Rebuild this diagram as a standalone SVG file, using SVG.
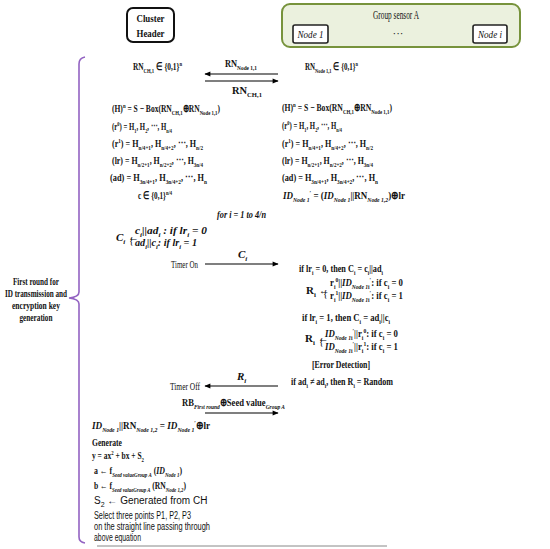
<svg xmlns="http://www.w3.org/2000/svg" width="550" height="549" viewBox="0 0 550 549">
<defs>
<marker id="ah" viewBox="0 0 10 10" refX="9" refY="5" markerWidth="7" markerHeight="6" orient="auto" markerUnits="userSpaceOnUse">
<path d="M0,1 L10,5 L0,9 z" fill="#000"/>
</marker>
</defs>
<style>
text{font-family:"Liberation Serif",serif;fill:#111}
.m{font-size:11px;font-weight:bold}
.it{font-style:italic}
.s{font-size:7px;baseline-shift:-2.5px}
.p{font-size:7px;baseline-shift:4px}
.sans{font-family:"Liberation Sans",sans-serif;font-size:10px;font-weight:normal}
.conn{stroke:#000;stroke-width:1.2;fill:none;marker-end:url(#ah)}
.nb{fill:#fff;stroke:#222;stroke-width:1.6}
</style>
<rect width="550" height="549" fill="#fff"/>

<g id="cluster-header">
<rect x="127" y="8" width="47" height="34" rx="6" fill="#fff" stroke="#111" stroke-width="2"/>
<text x="150.5" y="22" text-anchor="middle" class="m" font-size="12" textLength="28" lengthAdjust="spacingAndGlyphs">Cluster</text>
<text x="150.5" y="37" text-anchor="middle" class="m" font-size="12" textLength="28" lengthAdjust="spacingAndGlyphs">Header</text>
</g>

<g id="group-sensor-a">
<rect x="282" y="4" width="238" height="43" rx="8" fill="#ebf1de" stroke="#77933c" stroke-width="2"/>
<text x="396" y="19" text-anchor="middle" font-size="11.5" textLength="46" lengthAdjust="spacingAndGlyphs">Group sensor A</text>
<text x="398" y="37" text-anchor="middle" font-size="11">···</text>
</g>
<g id="node-1">
<rect x="293" y="25" width="35" height="18" rx="2" class="nb"/>
<text x="310.5" y="38" text-anchor="middle" font-size="11" class="it" textLength="26" lengthAdjust="spacingAndGlyphs">Node 1</text>
</g>
<g id="node-i">
<rect x="473" y="25" width="34" height="18" rx="2" class="nb"/>
<text x="490" y="38" text-anchor="middle" font-size="11" class="it" textLength="24" lengthAdjust="spacingAndGlyphs">Node i</text>
</g>

<g id="connectors">
<line x1="278" y1="74" x2="205" y2="74" class="conn"/>
<line x1="205" y1="81" x2="278" y2="81" class="conn"/>
<line x1="205" y1="264" x2="278" y2="264" class="conn"/>
<line x1="278" y1="386" x2="205" y2="386" class="conn"/>
<line x1="205" y1="413" x2="278" y2="413" class="conn"/>
</g>

<g id="brace">
<path d="M85,57 Q79,58 79,64 L79,292 Q79,297 69,298 Q79,299 79,304 L79,537 Q79,542 85,543" fill="none" stroke="#9363c2" stroke-width="1.6"/>
<text x="36" y="285" text-anchor="middle" class="m" font-size="10" textLength="46" lengthAdjust="spacingAndGlyphs">First round for</text>
<text x="36" y="297" text-anchor="middle" class="m" font-size="10" textLength="62" lengthAdjust="spacingAndGlyphs">ID transmission and</text>
<text x="36" y="309" text-anchor="middle" class="m" font-size="10" textLength="48" lengthAdjust="spacingAndGlyphs">encryption key</text>
<text x="36" y="321" text-anchor="middle" class="m" font-size="10" textLength="33" lengthAdjust="spacingAndGlyphs">generation</text>
</g>

<!-- top -->
<text x="133" y="70" class="m" textLength="49" lengthAdjust="spacingAndGlyphs">RN<tspan class="s">CH,1</tspan> ∈ {0,1}<tspan class="p">n</tspan></text>
<text x="305" y="70" class="m" textLength="53" lengthAdjust="spacingAndGlyphs">RN<tspan class="s">Node 1,1</tspan> ∈ {0,1}<tspan class="p">n</tspan></text>
<text x="225" y="67" class="m" textLength="32" lengthAdjust="spacingAndGlyphs">RN<tspan class="s">Node 1,1</tspan></text>
<text x="232" y="94" class="m" textLength="30" lengthAdjust="spacingAndGlyphs">RN<tspan class="s">CH,1</tspan></text>

<!-- left column -->
<text x="112" y="112" class="m" textLength="108" lengthAdjust="spacingAndGlyphs">(H)<tspan class="p">n</tspan> = S − Box(RN<tspan class="s">CH,1</tspan>⊕RN<tspan class="s">Node 1,1</tspan>)</text>
<text x="112" y="130" class="m" textLength="60" lengthAdjust="spacingAndGlyphs">(r<tspan class="p">0</tspan>) = H<tspan class="s">1</tspan>, H<tspan class="s">2</tspan>, ⋯, H<tspan class="s">n/4</tspan></text>
<text x="112" y="147" class="m" textLength="91" lengthAdjust="spacingAndGlyphs">(r<tspan class="p">1</tspan>) = H<tspan class="s">n/4+1</tspan>, H<tspan class="s">n/4+2</tspan>, ⋯, H<tspan class="s">n/2</tspan></text>
<text x="112" y="164" class="m" textLength="91" lengthAdjust="spacingAndGlyphs">(lr) = H<tspan class="s">n/2+1</tspan>, H<tspan class="s">n/2+2</tspan>, ⋯, H<tspan class="s">3n/4</tspan></text>
<text x="110" y="181" class="m" textLength="97" lengthAdjust="spacingAndGlyphs">(ad) = H<tspan class="s">3n/4+1</tspan>, H<tspan class="s">3n/4+2</tspan>, ⋯, H<tspan class="s">n</tspan></text>
<text x="138" y="199" class="m" textLength="34" lengthAdjust="spacingAndGlyphs">c ∈ {0,1}<tspan class="p">n/4</tspan></text>
<text x="217" y="218" class="m it" textLength="49" lengthAdjust="spacingAndGlyphs">for i = 1 to 4/n</text>
<text x="116" y="241" class="m it" font-size="12">C<tspan class="s">i</tspan> ←</text>
<text x="130" y="244" class="m" font-size="16" transform="translate(130,244) scale(0.6,1) translate(-130,-244)">{</text>
<text x="135" y="234" class="m it" textLength="72" lengthAdjust="spacingAndGlyphs">c<tspan class="s">i</tspan>||ad<tspan class="s">i</tspan> : if lr<tspan class="s">i</tspan> = 0</text>
<text x="135" y="246" class="m it" textLength="62" lengthAdjust="spacingAndGlyphs">ad<tspan class="s">i</tspan>||c<tspan class="s">i</tspan>: if lr<tspan class="s">i</tspan> = 1</text>
<text x="171" y="268" font-size="10" textLength="27" lengthAdjust="spacingAndGlyphs">Timer On</text>
<text x="238" y="258" class="m it" font-size="12">C<tspan class="s">i</tspan></text>

<!-- right column -->
<text x="282" y="111" class="m" textLength="110" lengthAdjust="spacingAndGlyphs">(H)<tspan class="p">n</tspan> = S − Box(RN<tspan class="s">CH,1</tspan>⊕RN<tspan class="s">Node 1,1</tspan>)</text>
<text x="282" y="129" class="m" textLength="60" lengthAdjust="spacingAndGlyphs">(r<tspan class="p">0</tspan>) = H<tspan class="s">1</tspan>, H<tspan class="s">2</tspan>, ⋯, H<tspan class="s">n/4</tspan></text>
<text x="282" y="147" class="m" textLength="91" lengthAdjust="spacingAndGlyphs">(r<tspan class="p">1</tspan>) = H<tspan class="s">n/4+1</tspan>, H<tspan class="s">n/4+2</tspan>, ⋯, H<tspan class="s">n/2</tspan></text>
<text x="282" y="164" class="m" textLength="91" lengthAdjust="spacingAndGlyphs">(lr) = H<tspan class="s">n/2+1</tspan>, H<tspan class="s">n/2+2</tspan>, ⋯, H<tspan class="s">3n/4</tspan></text>
<text x="282" y="181" class="m" textLength="96" lengthAdjust="spacingAndGlyphs">(ad) = H<tspan class="s">3n/4+1</tspan>, H<tspan class="s">3n/4+2</tspan>, ⋯, H<tspan class="s">n</tspan></text>
<text x="283" y="199" class="m" textLength="122" lengthAdjust="spacingAndGlyphs"><tspan class="it">ID</tspan><tspan class="s it">Node 1</tspan><tspan class="p">′</tspan> = (<tspan class="it">ID</tspan><tspan class="s it">Node 1</tspan>||RN<tspan class="s it">Node 1,2</tspan>)⊕lr</text>

<text x="299" y="272" class="m" textLength="84" lengthAdjust="spacingAndGlyphs">if lr<tspan class="s">i</tspan> = 0, then C<tspan class="s">i</tspan> = c<tspan class="s">i</tspan>||ad<tspan class="s">i</tspan></text>
<text x="306" y="294" class="m">R<tspan class="s">i</tspan> ←</text>
<text x="324" y="297" class="m" font-size="15" transform="translate(324,297) scale(0.6,1) translate(-324,-297)">{</text>
<text x="330" y="286" class="m" textLength="73" lengthAdjust="spacingAndGlyphs">r<tspan class="s">i</tspan><tspan class="p">0</tspan>||<tspan class="it">ID</tspan><tspan class="s it">Node 1</tspan><tspan class="s">i</tspan><tspan class="p">′</tspan>: if c<tspan class="s">i</tspan> = 0</text>
<text x="330" y="299" class="m" textLength="73" lengthAdjust="spacingAndGlyphs">r<tspan class="s">i</tspan><tspan class="p">1</tspan>||<tspan class="it">ID</tspan><tspan class="s it">Node 1</tspan><tspan class="s">i</tspan><tspan class="p">′</tspan>: if c<tspan class="s">i</tspan> = 1</text>

<text x="302" y="321" class="m" textLength="88" lengthAdjust="spacingAndGlyphs">if lr<tspan class="s">i</tspan> = 1, then C<tspan class="s">i</tspan> = ad<tspan class="s">i</tspan>||c<tspan class="s">i</tspan></text>
<text x="305" y="342" class="m">R<tspan class="s">i</tspan> ←</text>
<text x="320" y="345" class="m" font-size="15" transform="translate(320,345) scale(0.6,1) translate(-320,-345)">{</text>
<text x="325" y="337" class="m" textLength="73" lengthAdjust="spacingAndGlyphs"><tspan class="it">ID</tspan><tspan class="s it">Node 1</tspan><tspan class="s">i</tspan><tspan class="p">′</tspan>||r<tspan class="s">i</tspan><tspan class="p">0</tspan>: if c<tspan class="s">i</tspan> = 0</text>
<text x="325" y="350" class="m" textLength="73" lengthAdjust="spacingAndGlyphs"><tspan class="it">ID</tspan><tspan class="s it">Node 1</tspan><tspan class="s">i</tspan><tspan class="p">′</tspan>||r<tspan class="s">i</tspan><tspan class="p">1</tspan>: if c<tspan class="s">i</tspan> = 1</text>

<text x="312" y="368" class="m" textLength="58" lengthAdjust="spacingAndGlyphs">[Error Detection]</text>
<text x="291" y="385" class="m" textLength="102" lengthAdjust="spacingAndGlyphs">if ad<tspan class="s">i</tspan> ≠ ad<tspan class="s">i</tspan>, then R<tspan class="s">i</tspan> = Random</text>

<!-- lower -->
<text x="237" y="380" class="m it" font-size="12">R<tspan class="s">i</tspan></text>
<text x="170" y="390" font-size="10" textLength="30" lengthAdjust="spacingAndGlyphs">Timer Off</text>
<text x="182" y="406" class="m" textLength="103" lengthAdjust="spacingAndGlyphs">RB<tspan class="s it">First round</tspan>⊕Seed value<tspan class="s it">Group A</tspan></text>

<text x="92" y="429" class="m" textLength="118" lengthAdjust="spacingAndGlyphs"><tspan class="it">ID</tspan><tspan class="s it">Node 1</tspan>||RN<tspan class="s it">Node 1,2</tspan> = <tspan class="it">ID</tspan><tspan class="s it">Node 1</tspan><tspan class="p">′</tspan>⊕lr</text>
<text x="92" y="446" class="m" textLength="30" lengthAdjust="spacingAndGlyphs">Generate</text>
<text x="92" y="459" class="m" textLength="52" lengthAdjust="spacingAndGlyphs">y = ax<tspan class="p">2</tspan> + bx + S<tspan class="s">2</tspan></text>
<text x="94" y="474" class="m" textLength="88" lengthAdjust="spacingAndGlyphs">a ← f<tspan class="s it">Seed value</tspan><tspan class="s it" font-size="5">Group A</tspan> (<tspan class="it">ID</tspan><tspan class="s it">Node 1</tspan>)</text>
<text x="94" y="489" class="m" textLength="92" lengthAdjust="spacingAndGlyphs">b ← f<tspan class="s it">Seed value</tspan><tspan class="s it" font-size="5">Group A</tspan> (RN<tspan class="s it">Node 1,2</tspan>)</text>
<text x="94" y="504" class="sans">S<tspan class="s">2</tspan> ← Generated from CH</text>
<text x="94" y="519" class="sans" textLength="97" lengthAdjust="spacingAndGlyphs">Select three points P1, P2, P3</text>
<text x="94" y="530" class="sans" textLength="116" lengthAdjust="spacingAndGlyphs">on the straight line passing through</text>
<text x="94" y="541" class="sans" textLength="47" lengthAdjust="spacingAndGlyphs">above equation</text>
<line x1="97" y1="546" x2="387" y2="546" stroke="#888" stroke-width="1"/>
</svg>
